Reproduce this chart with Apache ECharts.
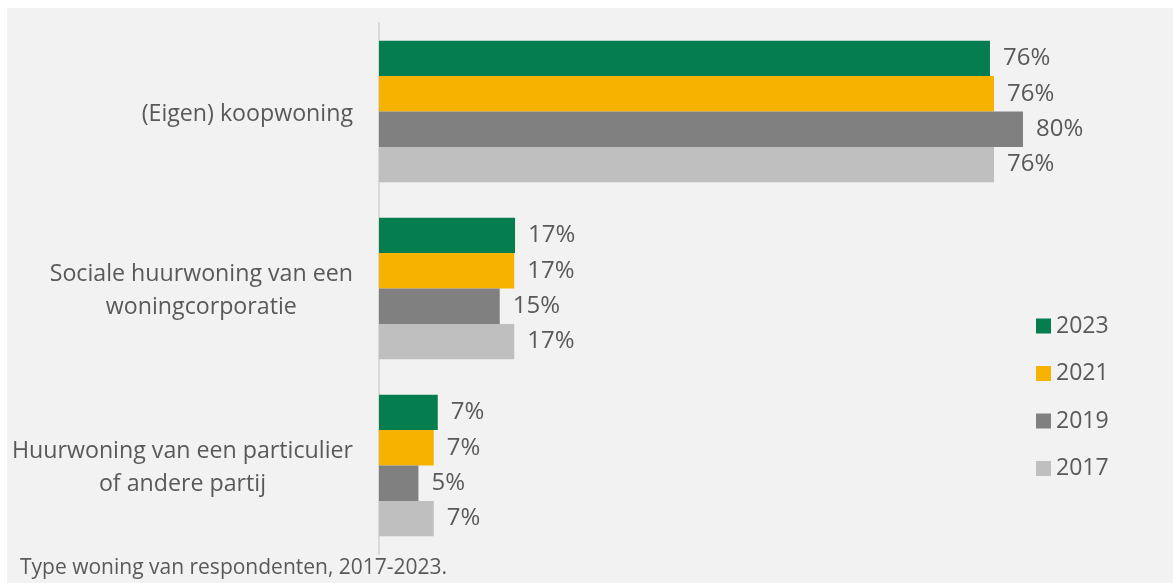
<!DOCTYPE html>
<html>
<head>
<meta charset="utf-8">
<script src="https://cdn.jsdelivr.net/npm/echarts@6/dist/echarts.min.js"></script>
<style>
html,body{margin:0;padding:0;background:#ffffff;width:1173px;height:583px;overflow:hidden;}
#chart{position:absolute;left:7px;top:8px;width:1166px;height:575px;}
</style>
</head>
<body>
<div id="chart"></div>
<script>
const categories = ['(Eigen) koopwoning', 'Sociale huurwoning van een\nwoningcorporatie', 'Huurwoning van een particulier\nof andere partij'];
const seriesNames = ['2023', '2021', '2019', '2017'];
const values2023 = [75.9, 16.9, 7.3];
const values2021 = [76.4, 16.8, 6.8];
const values2019 = [80.0, 15.0, 4.9];
const values2017 = [76.4, 16.8, 6.8];
const colors = ['#057d4f', '#f7b200', '#808080', '#bfbfbf'];
const caption = 'Type woning van respondenten, 2017-2023.';

const FONT = '"Open Sans"';
const TXT = '#595959';
const allValues = [values2023, values2021, values2019, values2017];

const chart = echarts.init(document.getElementById('chart'));
chart.setOption({
  backgroundColor: '#f2f2f2',
  animation: false,
  title: {
    text: caption,
    left: 13, top: 550, padding: 0,
    textStyle: {fontFamily: FONT, fontSize: 21, fontWeight: 'normal', color: TXT}
  },
  legend: {
    orient: 'vertical',
    left: 1024, top: 301,
    itemWidth: 15, itemHeight: 15, itemGap: 23.5, itemTextGap: 6,
    icon: 'rect',
    data: seriesNames,
    textStyle: {fontFamily: FONT, fontSize: 23, color: TXT, lineHeight: 24}
  },
  grid: {left: 372, top: 15, bottom: 29, right: 69.5},
  xAxis: {
    type: 'value', min: 0, max: 90, show: false, splitLine: {show: false}
  },
  yAxis: {
    type: 'category', inverse: true, data: categories,
    axisLine: {show: true, lineStyle: {color: '#d9d9d9', width: 2}},
    axisTick: {show: false},
    axisLabel: {
      margin: 26, align: 'right', padding: [5, 0, 0, 0],
      fontFamily: FONT, fontSize: 23.2, color: TXT, lineHeight: 33,
      formatter: v => v.split('\n').map(l => '{c|' + l + '}').join('\n'),
      rich: {c: {align: 'center', fontFamily: FONT, fontSize: 23.2, color: TXT, lineHeight: 33}}
    }
  },
  series: seriesNames.map((n, i) => ({
    name: n, type: 'bar', data: allValues[i],
    barCategoryGap: '20%', barGap: '0%',
    itemStyle: {color: colors[i]},
    label: {
      show: true, position: 'right', distance: 13, padding: [4, 0, 0, 0],
      fontFamily: FONT, fontSize: 24, color: TXT,
      formatter: p => Math.round(p.value) + '%'
    }
  }))
});
</script>
</body>
</html>
